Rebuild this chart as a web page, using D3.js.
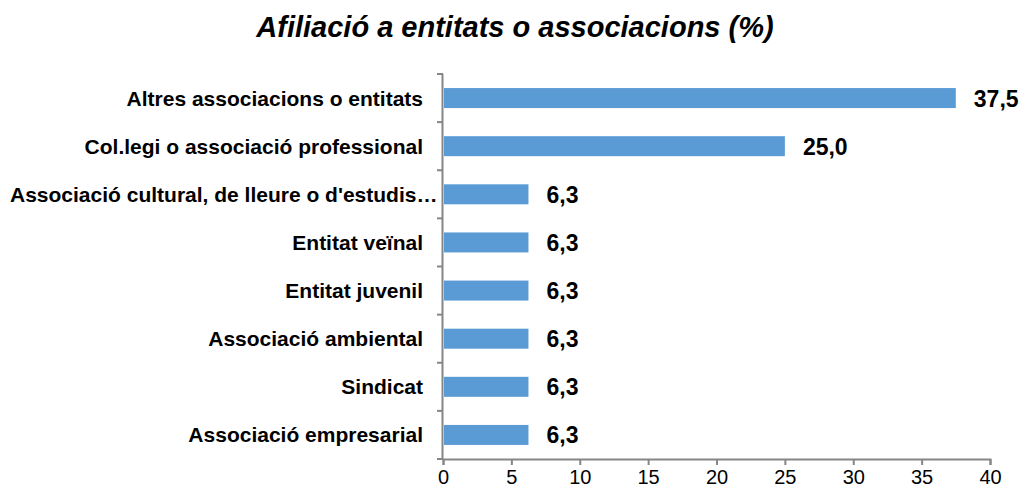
<!DOCTYPE html>
<html>
<head>
<meta charset="utf-8">
<script src="https://cdn.jsdelivr.net/npm/d3@7"></script>
<style>
  body { margin: 0; background: #fff; }
  svg { font-family: "Liberation Sans", Arial, sans-serif; }
</style>
</head>
<body>
<svg id="chart" width="1024" height="487"></svg>
<script>
var categories = [
  "Altres associacions o entitats",
  "Col.legi o associació professional",
  "Associació cultural, de lleure o d'estudis…",
  "Entitat veïnal",
  "Entitat juvenil",
  "Associació ambiental",
  "Sindicat",
  "Associació empresarial"
];
// 6,3 shown on the labels is 1 of 16 answers (6.25)
var values = [37.5, 25.0, 6.25, 6.25, 6.25, 6.25, 6.25, 6.25];
var xTicks = [0, 5, 10, 15, 20, 25, 30, 35, 40];

var svg = d3.select("#chart");
var plotLeft = 443, plotRight = 990, plotTop = 74, plotBottom = 459;

// title
svg.append("text")
  .attr("x", 515).attr("y", 37)
  .attr("text-anchor", "middle")
  .style("font-size", "29px").style("font-weight", "bold").style("font-style", "italic")
  .text("Afiliació a entitats o associacions (%)");

var x = d3.scaleLinear().domain([0, 40]).range([plotLeft, plotRight]);
var y = d3.scaleBand().domain(categories).range([plotTop, plotBottom]);
var barH = 20;

// bars
svg.selectAll("rect.bar")
  .data(categories)
  .enter().append("rect")
  .attr("class", "bar")
  .attr("x", x(0) + 1)
  .attr("y", function(d) { return y(d) + y.bandwidth() / 2 - barH / 2; })
  .attr("width", function(d, i) { return x(values[i]) - x(0) - 1; })
  .attr("height", barH)
  .style("fill", "#5b9bd5");

// value labels
svg.selectAll("text.val")
  .data(categories)
  .enter().append("text")
  .attr("class", "val")
  .attr("x", function(d, i) { return x(values[i]) + 18; })
  .attr("y", function(d) { return y(d) + y.bandwidth() / 2; })
  .attr("dy", "0.37em")
  .style("font-size", "23px").style("font-weight", "bold")
  .text(function(d, i) { return d3.format(".1f")(values[i]).replace(".", ","); });

// y axis line + ticks
var axisColor = "#868686";
svg.append("line")
  .attr("x1", plotLeft - 0.5).attr("x2", plotLeft - 0.5)
  .attr("y1", plotTop).attr("y2", plotBottom)
  .style("stroke", axisColor).style("stroke-width", 2);
var yTickPos = categories.map(function(d) { return y(d); }).concat([plotBottom]);
svg.selectAll("line.ytick")
  .data(yTickPos)
  .enter().append("line")
  .attr("x1", plotLeft - 6).attr("x2", plotLeft)
  .attr("y1", function(d) { return d; }).attr("y2", function(d) { return d; })
  .style("stroke", axisColor).style("stroke-width", 2);

// category labels
svg.selectAll("text.cat")
  .data(categories)
  .enter().append("text")
  .attr("class", "cat")
  .attr("y", function(d) { return y(d) + y.bandwidth() / 2; })
  .attr("dy", "0.36em")
  .attr("text-anchor", "end")
  .style("font-size", "21px").style("font-weight", "bold")
  .text(function(d) { return d; })
  .attr("x", function() {
    var w = this.getComputedTextLength();
    return Math.max(423, 10 + w);
  });

// x axis
var xAxis = d3.axisBottom(x).tickValues(xTicks).tickSize(6).tickPadding(5);
var gx = svg.append("g")
  .attr("transform", "translate(0," + plotBottom + ")")
  .call(xAxis);
gx.select(".domain").style("stroke", axisColor).style("stroke-width", 2);
gx.selectAll(".tick line").style("stroke", axisColor).style("stroke-width", 2);
gx.selectAll(".tick text")
  .style("font-size", "20px").style("fill", "#000")
  .style("font-family", "Liberation Sans, Arial, sans-serif");
</script>
</body>
</html>
